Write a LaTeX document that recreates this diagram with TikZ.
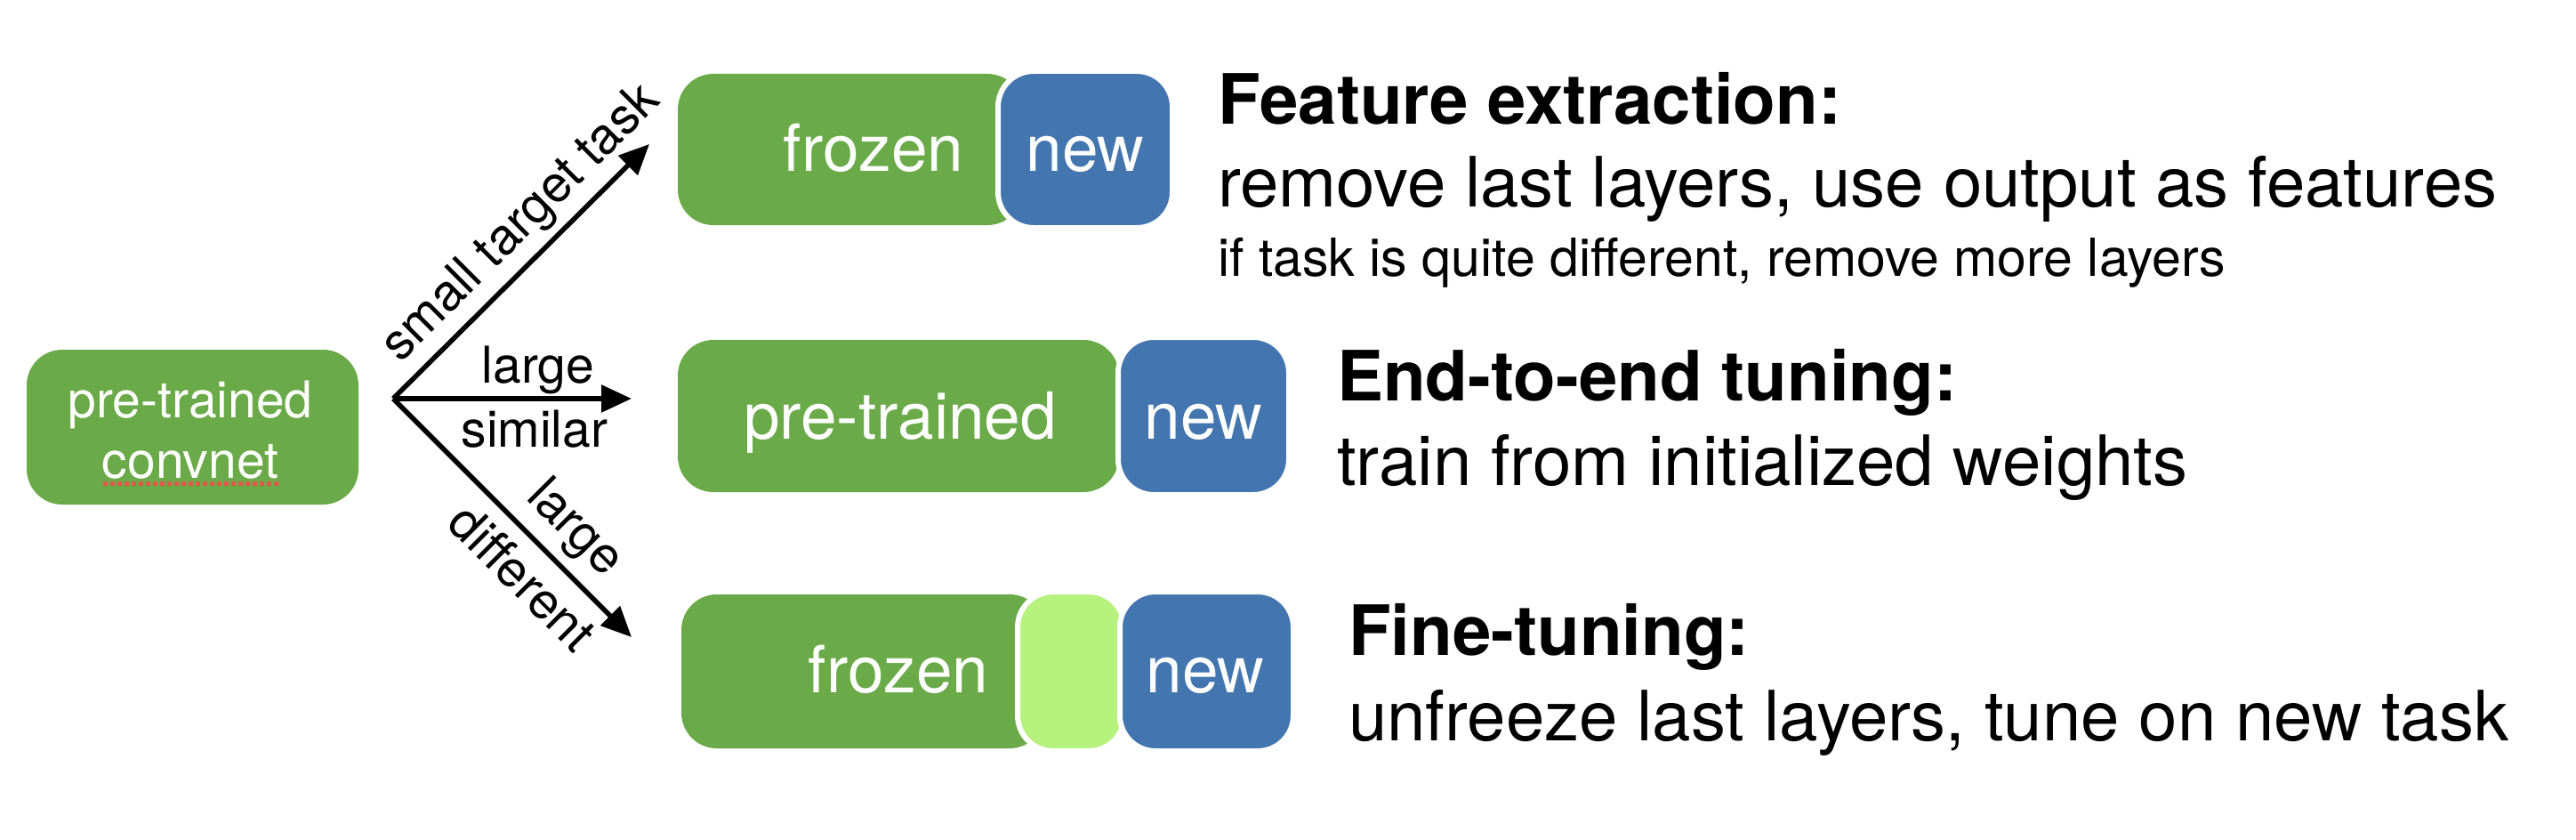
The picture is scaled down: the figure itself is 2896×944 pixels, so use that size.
\documentclass[tikz,border=0pt]{standalone}
\usepackage{fontspec}
\setmainfont{TeX Gyre Heros}
\usetikzlibrary{arrows.meta}
\definecolor{gr}{HTML}{6AAA48}
\definecolor{bl}{HTML}{4375AF}
\definecolor{lg}{HTML}{B8F27E}
\definecolor{spell}{HTML}{E0584A}
\begin{document}
\begin{tikzpicture}[x=1pt,y=-1pt,
  box/.style={rectangle, rounded corners=40pt, inner sep=0pt, outer sep=0pt},
  gbox/.style={box, fill=gr},
  bbox/.style={box, fill=bl, draw=white, line width=6pt},
  lbox/.style={box, fill=lg, draw=white, line width=6pt},
  boxtxt/.style={text=white, font=\fontsize{73}{80}\selectfont, anchor=base, inner sep=0pt},
  lbl/.style={font=\fontsize{57}{64}\selectfont, anchor=base, inner sep=0pt},
  head/.style={font=\bfseries\fontsize{78}{88}\selectfont, anchor=base west, inner sep=0pt},
  body/.style={font=\fontsize{78}{88}\selectfont, anchor=base west, inner sep=0pt},
  small/.style={font=\fontsize{59}{66}\selectfont, anchor=base west, inner sep=0pt},
  arr/.style={line width=5.5pt, -{Triangle[length=34pt,width=30pt]}}]
\useasboundingbox (0,0) rectangle (2896,944);

% source box
\node[gbox, minimum width=373pt, minimum height=174pt] (src) at (216.5,480) {};
\node[text=white, font=\fontsize{57}{64}\selectfont, anchor=base, inner sep=0pt] (srcA) at (214,469) {pre-trained};
\node[text=white, font=\fontsize{57}{64}\selectfont, anchor=base, inner sep=0pt] (srcB) at (214,537) {convnet};
\coordinate (sqA) at (116,543);
\coordinate (sqB) at (314,543);
\draw[spell, line width=5pt, dash pattern=on 5pt off 3pt] (sqA) -- (sqB);

% arrows
\coordinate (o) at (442,448);
\coordinate (t1) at (730,162);
\coordinate (t2) at (710,448);
\coordinate (t3) at (710,716);
\draw[arr] (o) -- (t1);
\draw[arr] (o) -- (t2);
\draw[arr] (o) -- (t3);
\node[lbl, rotate=45] (l1) at (597,262) {small target task};
\node[lbl] (l2a) at (605,430) {large};
\node[lbl] (l2b) at (601,502) {similar};
\node[lbl, rotate=-45] (l3a) at (635,605) {large};
\node[lbl, rotate=-45] (l3b) at (573,663) {different};

% row 1
\node[gbox, minimum width=388pt, minimum height=170pt] (g1) at (956,168) {};
\node[bbox, minimum width=196pt, minimum height=176pt] (b1) at (1220,168) {};
\node[boxtxt] (g1t) at (982,193) {frozen};
\node[boxtxt] (b1t) at (1220,193) {new};

% row 2
\node[gbox, minimum width=496pt, minimum height=171pt] (g2) at (1010,467.5) {};
\node[bbox, minimum width=192pt, minimum height=177pt] (b2) at (1353,467.5) {};
\node[boxtxt] (g2t) at (1012,493) {pre-trained};
\node[boxtxt] (b2t) at (1353,493) {new};

% row 3
\node[gbox, minimum width=409pt, minimum height=173pt] (g3) at (970.5,754.5) {};
\node[lbox, minimum width=120pt, minimum height=179pt] (m3) at (1204,754.5) {};
\node[bbox, minimum width=195pt, minimum height=179pt] (b3) at (1356.5,754.5) {};
\node[boxtxt] (g3t) at (1010,778) {frozen};
\node[boxtxt] (b3t) at (1355,778) {new};

% texts
\node[head] (h1) at (1369,140) {Feature extraction:};
\node[body] (d1) at (1369,233) {remove last layers, use output as features};
\node[small] (s1) at (1369,310) {if task is quite different, remove more layers};
\node[head] (h2) at (1503,450) {End-to-end tuning:};
\node[body] (d2) at (1503,545) {train from initialized weights};
\node[head] (h3) at (1516,736) {Fine-tuning:};
\node[body] (d3) at (1516,832) {unfreeze last layers, tune on new task};
\end{tikzpicture}
\end{document}
